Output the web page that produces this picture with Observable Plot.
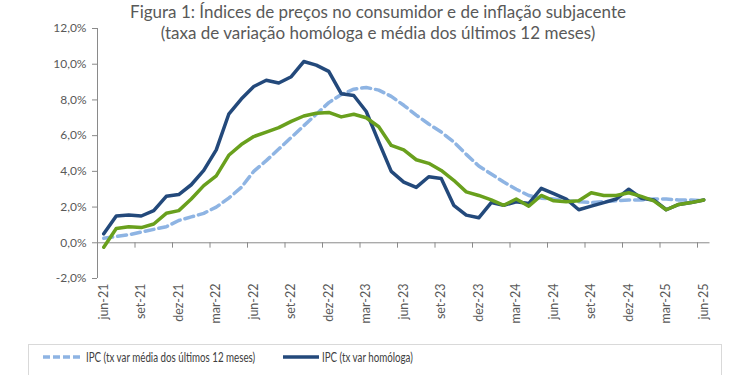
<!DOCTYPE html>
<html><head><meta charset="utf-8">
<script src="https://cdn.jsdelivr.net/npm/d3@7"></script>
<script src="https://cdn.jsdelivr.net/npm/@observablehq/plot@0.6"></script>
<style>
body{margin:0;background:#fff;font-family:Lato,"Open Sans",sans-serif;}
#wrap{position:relative;width:750px;height:375px;overflow:hidden;background:#fff;}
#chart{position:absolute;left:0;top:0;}
#title{position:absolute;left:0;width:756px;top:1px;text-align:center;color:#595959;font-size:17px;line-height:21px;white-space:nowrap;}
#legend{position:absolute;left:28px;top:344px;width:694px;height:60px;border:1px solid #d9d9d9;box-sizing:border-box;font-size:12.5px;color:#404040;}
.item{position:absolute;top:3px;display:flex;align-items:center;white-space:nowrap;}
.item svg{margin-right:3px;}
.item span{display:inline-block;transform:scaleX(0.78);transform-origin:left center;}
</style>
</head><body>
<div id="wrap">
  <div id="chart"></div>
  <div id="title">Figura 1: Índices de preços no consumidor e de inflação subjacente<br>(taxa de variação homóloga e média dos últimos 12 meses)</div>
  <div id="legend"></div>
</div>
<script>
const months = ["jun-21","jul-21","ago-21","set-21","out-21","nov-21","dez-21",
  "jan-22","fev-22","mar-22","abr-22","mai-22","jun-22","jul-22","ago-22","set-22","out-22","nov-22","dez-22",
  "jan-23","fev-23","mar-23","abr-23","mai-23","jun-23","jul-23","ago-23","set-23","out-23","nov-23","dez-23",
  "jan-24","fev-24","mar-24","abr-24","mai-24","jun-24","jul-24","ago-24","set-24","out-24","nov-24","dez-24",
  "jan-25","fev-25","mar-25","abr-25","mai-25","jun-25"];

// IPC (tx var homóloga)
const ipcHomologa = [0.5,1.5,1.55,1.5,1.8,2.6,2.7,
  3.25,4.05,5.2,7.2,8.05,8.75,9.1,8.95,9.3,10.15,9.95,9.6,
  8.35,8.25,7.35,5.65,4.0,3.4,3.1,3.7,3.6,2.1,1.55,1.4,
  2.25,2.1,2.3,2.2,3.05,2.75,2.45,1.85,2.05,2.25,2.45,3.0,
  2.5,2.4,1.85,2.15,2.25,2.4];

// IPC (tx var média dos últimos 12 meses)
const ipcMedia12 = [0.25,0.35,0.45,0.6,0.75,0.9,1.25,
  1.45,1.65,2.0,2.5,3.1,4.0,4.6,5.25,5.9,6.55,7.2,7.85,
  8.3,8.6,8.7,8.55,8.2,7.7,7.15,6.65,6.2,5.65,4.95,4.3,
  3.85,3.4,3.0,2.65,2.5,2.45,2.35,2.3,2.25,2.3,2.35,2.4,
  2.4,2.45,2.45,2.4,2.4,2.35];

// Inflação subjacente (tx var homóloga)
const subjacente = [-0.25,0.8,0.9,0.85,1.05,1.65,1.8,
  2.45,3.2,3.75,4.9,5.5,5.95,6.2,6.45,6.8,7.1,7.25,7.3,
  7.05,7.2,7.0,6.5,5.45,5.2,4.65,4.45,4.05,3.5,2.85,2.65,
  2.4,2.1,2.45,2.05,2.65,2.35,2.3,2.35,2.8,2.65,2.65,2.8,
  2.6,2.35,1.85,2.15,2.25,2.4];

const yTicks = [-2,0,2,4,6,8,10,12];
const labelIdx = months.map((m,i)=>i).filter(i=>i%3===0);
const boundaries = labelIdx.slice(1).map(i=>i-0.5);

const COL_DARK = "#23497b", COL_LIGHT = "#8eb4e3", COL_GREEN = "#69a01d", AXIS = "#8a8a8a";
const rows = arr => arr.map((v,i)=>({i, v, m: months[i]}));
const fmt = d => d.toFixed(1).replace(".", ",") + "%";

const chart = Plot.plot({
  width: 750, height: 340,
  marginTop: 28, marginBottom: 62, marginLeft: 97, marginRight: 40.5,
  x: {type: "linear", domain: [-0.5, months.length - 0.5]},
  y: {domain: [-2, 12]},
  style: {fontFamily: "Lato, 'Open Sans', sans-serif", fontSize: "12px", color: "#595959", background: "transparent"},
  marks: [
    Plot.ruleY([0], {stroke: AXIS, strokeWidth: 1}),
    Plot.ruleX([-0.5], {y1: -2, y2: 12, stroke: AXIS, strokeWidth: 1}),
    Plot.ruleX(boundaries, {y1: 0, y2: -0.3, stroke: AXIS, strokeWidth: 1}),
    Plot.axisY({ticks: yTicks, tickSize: 5, tickPadding: 6, tickFormat: fmt, stroke: AXIS, fill: "#595959", label: null}),
    Plot.axisX({ticks: labelIdx, tickFormat: i => months[i], tickSize: 0, tickPadding: 5, tickRotate: -90, fill: "#595959", label: null, fontSize: 12.5}),
    Plot.line(rows(ipcMedia12), {x: "i", y: "v", stroke: COL_LIGHT, strokeWidth: 3.5, strokeDasharray: "9,5"}),
    Plot.line(rows(ipcHomologa), {x: "i", y: "v", stroke: COL_DARK, strokeWidth: 3.5, strokeLinejoin: "round"}),
    Plot.line(rows(subjacente), {x: "i", y: "v", stroke: COL_GREEN, strokeWidth: 3.5, strokeLinejoin: "round"})
  ]
});
document.getElementById("chart").appendChild(chart);

const legendItems = [
  {label: "IPC (tx var média dos últimos 12 meses)", color: COL_LIGHT, dash: "7,3", left: 14, w: 40},
  {label: "IPC (tx var homóloga)", color: COL_DARK, dash: null, left: 254, w: 36}
];
const leg = document.getElementById("legend");
for (const it of legendItems) {
  const d = document.createElement("div");
  d.className = "item";
  d.style.left = it.left + "px";
  d.innerHTML = `<svg width="${it.w}" height="18"><line x1="0" x2="${it.w}" y1="9" y2="9" stroke="${it.color}" stroke-width="3.5" ${it.dash ? `stroke-dasharray="${it.dash}"` : ""}/></svg><span>${it.label}</span>`;
  leg.appendChild(d);
}
</script>
</body></html>
